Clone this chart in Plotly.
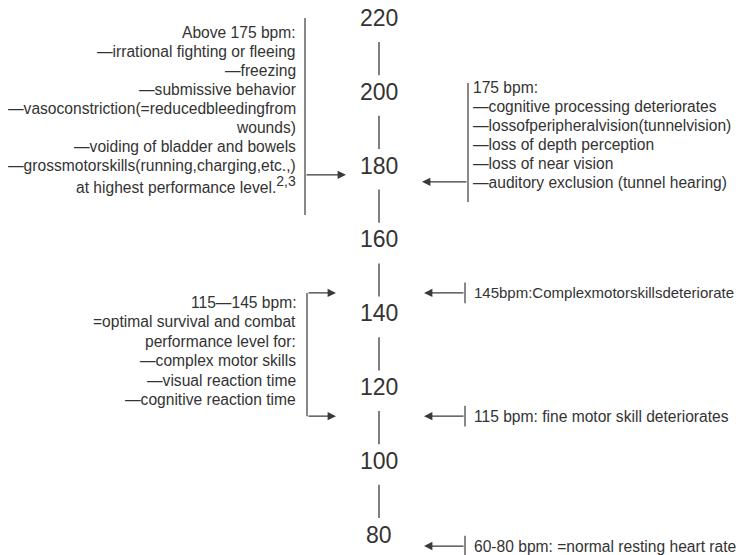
import plotly.graph_objects as go

# ---- data ----
scale_bpm = [220, 200, 180, 160, 140, 120, 100, 80]

# arrow positions (bpm)
above175_arrow_bpm = 177.5
right175_arrow_bpm = 175.6
opt_top_bpm = 145.5
opt_bottom_bpm = 112.1
fine_bpm = 112.1
complex_bpm = 145.5
resting_bpm = 76.9

top_left_lines = [
    "Above 175 bpm:",
    "\u2014irrational fighting or fleeing",
    "\u2014freezing",
    "\u2014submissive behavior",
    "\u2014vasoconstriction(=reducedbleedingfrom",
    "wounds)",
    "\u2014voiding of bladder and bowels",
    "\u2014grossmotorskills(running,charging,etc.,)",
    "at highest performance level.<sup><span style='font-size:14px'>2,3</span></sup>",
]
right_175_lines = [
    "175 bpm:",
    "\u2014cognitive processing deteriorates",
    "\u2014lossofperipheralvision(tunnelvision)",
    "\u2014loss of depth perception",
    "\u2014loss of near vision",
    "\u2014auditory exclusion (tunnel hearing)",
]
mid_left_lines = [
    "115\u2014145 bpm:",
    "=optimal survival and combat",
    "performance level for:",
    "\u2014complex motor skills",
    "\u2014visual reaction time",
    "\u2014cognitive reaction time",
]
complex_text = "145bpm:Complexmotorskillsdeteriorate"
fine_text = "115 bpm: fine motor skill deteriorates"
resting_text = "60-80 bpm: =normal resting heart rate"

# ---- layout helpers ----
W, H = 748, 555
OFF = 8  # page body margin
PX_PER_BPM = 3.69
Y0_BPM = 220 + 18 / PX_PER_BPM  # bpm at reference pixel row 0


def px2bpm(py):
    return Y0_BPM - py / PX_PER_BPM


TXT = "#333333"
LN = "#3a3a3a"
FONT = "Liberation Sans, Arial, sans-serif"
FS = 15.6

fig = go.Figure()
annotations = []
shapes = []

# scale numbers
for v in scale_bpm:
    annotations.append(dict(x=379, y=v, xref="x", yref="y", text=str(v), showarrow=False,
                            font=dict(size=23, color=TXT, family=FONT),
                            xanchor="center", yanchor="middle"))
# segments between numbers
for hi, lo in zip(scale_bpm[:-1], scale_bpm[1:]):
    shapes.append(dict(type="line", xref="x", yref="y", x0=379, x1=379, y0=hi - 6.5, y1=lo + 4.5,
                       line=dict(color=LN, width=1.3)))


def text_block(lines, x, y0px, step, anchor, size=FS):
    for i, t in enumerate(lines):
        annotations.append(dict(x=x, y=px2bpm(y0px + i * step), xref="x", yref="y", text=t,
                                showarrow=False, font=dict(size=size, color=TXT, family=FONT),
                                xanchor=anchor, yanchor="middle"))


def arrow(x_tail, x_tip, v):
    annotations.append(dict(x=x_tip, y=v, ax=x_tail, ay=v, xref="x", yref="y", axref="x", ayref="y",
                            text="", showarrow=True, arrowhead=2, arrowsize=1.4, arrowwidth=1.2,
                            arrowcolor=LN, standoff=0, startstandoff=0))


def vline(x, v0, v1):
    shapes.append(dict(type="line", xref="x", yref="y", x0=x, x1=x, y0=v0, y1=v1,
                       line=dict(color=LN, width=1.2)))


# top-left block
text_block(top_left_lines, 298, 32, 19.1, "right")
vline(305, px2bpm(18), px2bpm(215))
arrow(305, 346, above175_arrow_bpm)

# right 175 block
text_block(right_175_lines, 471, 87, 19.0, "left")
vline(468, px2bpm(83), px2bpm(202))
arrow(468, 422, right175_arrow_bpm)

# middle-left block
text_block(mid_left_lines, 298, 302, 19.5, "right")
vline(307, opt_top_bpm, opt_bottom_bpm)
arrow(307, 336, opt_top_bpm)
arrow(307, 336, opt_bottom_bpm)

# single right notes
for v, t, s in [(complex_bpm, complex_text, 15.0), (fine_bpm, fine_text, FS),
                (resting_bpm, resting_text, FS)]:
    arrow(465, 424, v)
    vline(465, v + 2.8, v - 2.8)
    annotations.append(dict(x=472, y=v, xref="x", yref="y", text=t, showarrow=False,
                            font=dict(size=s, color=TXT, family=FONT),
                            xanchor="left", yanchor="middle"))

fig.update_layout(
    width=W - OFF, height=H - OFF, margin=dict(l=0, r=0, t=0, b=0),
    paper_bgcolor="white", plot_bgcolor="white",
    xaxis=dict(range=[OFF, W], visible=False, fixedrange=True),
    yaxis=dict(range=[px2bpm(H), px2bpm(OFF)], visible=False, fixedrange=True),
    annotations=annotations, shapes=shapes, showlegend=False,
)
fig.write_html("out.html")
